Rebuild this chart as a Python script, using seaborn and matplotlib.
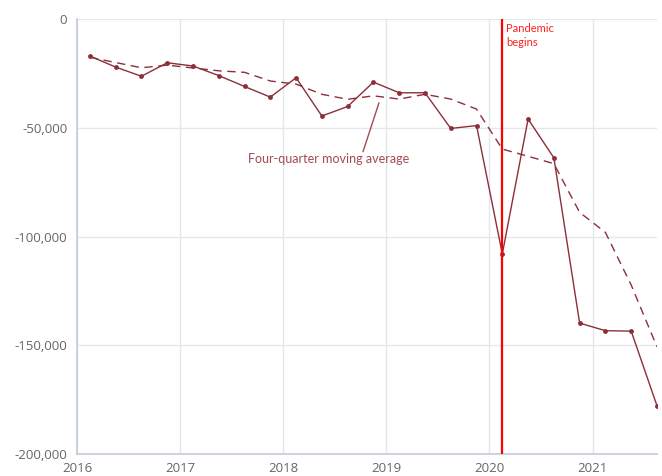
import numpy as np
import pandas as pd
import matplotlib
matplotlib.use('Agg')
import matplotlib.pyplot as plt
import seaborn as sns

# Quarterly values (positioned mid-quarter), 2016 Q1 .. 2021 Q3
quarter_pos = [2016.125, 2016.375, 2016.625, 2016.875,
               2017.125, 2017.375, 2017.625, 2017.875,
               2018.125, 2018.375, 2018.625, 2018.875,
               2019.125, 2019.375, 2019.625, 2019.875,
               2020.125, 2020.375, 2020.625, 2020.875,
               2021.125, 2021.375, 2021.625]
quarterly = [-17000, -22100, -26300, -20100,
             -21600, -26000, -31000, -35900,
             -27000, -44600, -40200, -29000,
             -33900, -33900, -50300, -49000,
             -108000, -46000, -63800, -139800,
             -143300, -143500, -177800]
moving_avg = [-17600, -20000, -22400, -21200,
              -22500, -23800, -24500, -28500,
              -29900, -34600, -36900, -35300,
              -36800, -34600, -36800, -41400,
              -59800, -63100, -66500, -88900,
              -98100, -122300, -150700]
year_ticks = [2016, 2017, 2018, 2019, 2020, 2021]
y_ticks = [0, -50000, -100000, -150000, -200000]
pandemic_x = 2020.125

df = pd.DataFrame({'x': quarter_pos, 'value': quarterly, 'avg': moving_avg})

sns.set_style('white')
plt.rcParams['font.family'] = ['Open Sans', 'DejaVu Sans']

line_color = '#8c2f39'
grid_color = '#e3e7ee'
axis_color = '#c3ccd9'
text_grey = '#666666'
note_color = '#a34a52'

fig = plt.figure(figsize=(6.62, 4.76), dpi=100)
ax = fig.add_axes([0.1163, 0.0462, 0.8761, 0.9138])

sns.lineplot(data=df, x='x', y='avg', ax=ax, color=line_color, lw=1.0,
             linestyle=(0, (6, 4)), zorder=3)
sns.lineplot(data=df, x='x', y='value', ax=ax, color=line_color, lw=1.0,
             marker='o', markersize=3.5, markeredgewidth=0, zorder=4)

ax.axvline(pandemic_x, color='#ff0000', lw=1.6, zorder=5)
ax.text(pandemic_x + 0.04, -1800, 'Pandemic\nbegins', color='#ff2020',
        fontsize=8, family=['Lato', 'DejaVu Sans'], va='top', ha='left',
        linespacing=1.3)

# label for the moving average, with a plain pointer line
ax.annotate('', xy=(2018.929, -38500), xytext=(2018.774, -61000),
            arrowprops=dict(arrowstyle='-', color=note_color, lw=1,
                            shrinkA=0, shrinkB=0))
ax.text(2018.44, -64200, 'Four-quarter moving average', color=note_color,
        fontsize=9, family=['Lato', 'DejaVu Sans'], ha='center', va='center')

ax.set_xlim(2016, 2021.625)
ax.set_ylim(-200000, 0)
ax.set_xticks(year_ticks)
ax.set_xticklabels([str(y) for y in year_ticks])
ax.set_xticks(quarter_pos, minor=True)
ax.set_yticks(y_ticks)
ax.set_yticklabels([f'{v:,}' for v in y_ticks])

ax.grid(True, which='major', color=grid_color, lw=1)
ax.set_axisbelow(True)
for side in ['top', 'right']:
    ax.spines[side].set_visible(False)
for side in ['left', 'bottom']:
    ax.spines[side].set_color(axis_color)
    ax.spines[side].set_linewidth(1.2)

ax.tick_params(axis='both', which='major', colors=axis_color, labelcolor=text_grey,
               labelsize=9.5, length=5, width=1)
ax.tick_params(axis='x', which='minor', colors='#999999', length=3, width=0.8)
ax.tick_params(axis='x', which='major', pad=1)
ax.tick_params(axis='y', which='major', pad=2)
ax.set_xlabel('')
ax.set_ylabel('')

fig.savefig('out.png', dpi=100)
